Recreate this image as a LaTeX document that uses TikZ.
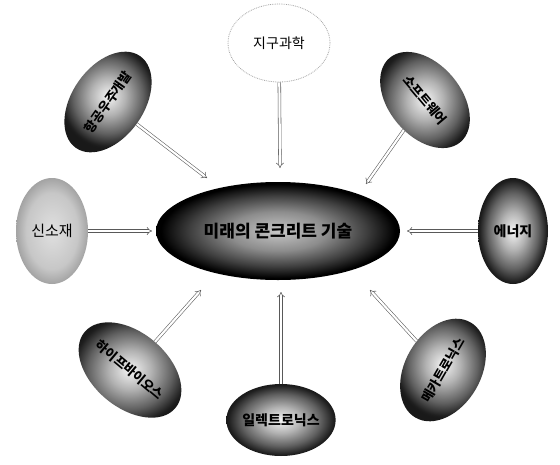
\documentclass[tikz,border=0pt]{standalone}
\usepackage{fontspec}
\newfontfamily\kr{Noto Sans CJK KR}
\usetikzlibrary{shapes.geometric,arrows.meta}
\pgfdeclareradialshading{bubshade}{\pgfpoint{0bp}{0bp}}{color(0bp)=(black!4); color(9bp)=(black!30); color(18bp)=(black!62); color(24bp)=(black!88); color(25bp)=(black!90); color(50bp)=(black!90)}
\pgfdeclareradialshading{centshade}{\pgfpoint{0bp}{0bp}}{color(0bp)=(black!22); color(10bp)=(black!45); color(18bp)=(black!75); color(24bp)=(black); color(25bp)=(black); color(50bp)=(black)}
\pgfdeclareradialshading{lightshade}{\pgfpoint{0bp}{0bp}}{color(0bp)=(black!12); color(18bp)=(black!22); color(25bp)=(black!36); color(50bp)=(black!36)}
\begin{document}
\begin{tikzpicture}[x=1pt,y=-1pt,
  bub/.style={ellipse, inner sep=0pt, shading=bubshade, font=\kr\bfseries\fontsize{13}{13}\selectfont},
  dbl/.style={draw=black!65, line width=0.55pt, double=white, double distance=2.2pt, -{Implies}},
]
\useasboundingbox (0,0) rectangle (560,464);
\fill[white] (0,0) rectangle (560,464);

\node[ellipse, inner sep=0pt, minimum width=244, minimum height=98, shading=centshade, font=\kr\bfseries\fontsize{17}{17}\selectfont] (c) at (278,231) {미래의 콘크리트 기술};

\node[ellipse, inner sep=0pt, minimum width=102, minimum height=78, draw=black!35, densely dotted, line width=0.8pt, fill=white, font=\kr\fontsize{14}{14}\selectfont] (top) at (279,43) {지구과학};

\node[bub, minimum width=112, minimum height=72, rotate=55] (tl) at (108,102) {항공우주개발};
\node[bub, minimum width=110, minimum height=72, rotate=-50] (tr) at (425,100) {소프트웨어};
\node[bub, minimum width=72, minimum height=106, shading=lightshade, font=\kr\fontsize{15}{15}\selectfont] (l) at (52,231) {신소재};
\node[bub, minimum width=70, minimum height=106, font=\kr\bfseries\fontsize{14}{14}\selectfont] (r) at (513,231) {에너지};
\node[bub, minimum width=110, minimum height=75, rotate=-40] (bl) at (130,370) {하이프바이오스};
\node[bub, minimum width=110, minimum height=76, rotate=60] (br) at (443,370) {메카트로닉스};
\node[bub, minimum width=100, minimum height=72, font=\kr\bfseries\fontsize{14}{14}\selectfont] (b) at (281,420) {일렉트로닉스};

\coordinate (tT) at (280,168);
\coordinate (tTL) at (207,178);
\coordinate (tTR) at (366,184);
\coordinate (tL) at (152,231);
\coordinate (tR) at (407,231);
\coordinate (tBL) at (201,290);
\coordinate (tB) at (281,292);
\coordinate (tBR) at (370,290);

\draw[dbl] (top) -- (tT);
\draw[dbl] (tl) -- (tTL);
\draw[dbl] (tr) -- (tTR);
\draw[dbl] (l) -- (tL);
\draw[dbl] (r) -- (tR);
\draw[dbl] (bl) -- (tBL);
\draw[dbl] (b) -- (tB);
\draw[dbl] (br) -- (tBR);
\end{tikzpicture}
\end{document}
